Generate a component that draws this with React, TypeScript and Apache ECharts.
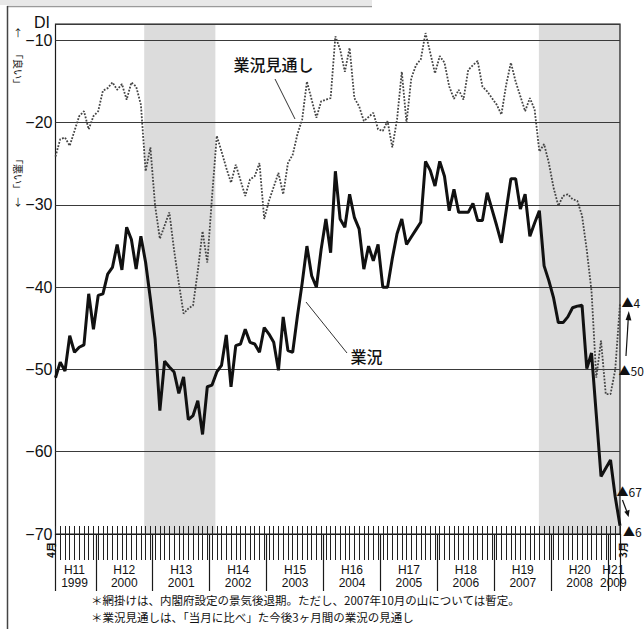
import React, { useEffect, useRef } from "react";
import * as echarts from "echarts";

// 業況 DI (solid), monthly Apr 1999 – Mar 2009
const businessDI = [
  -51, -49.1, -50.2, -45.9, -47.9, -47.3, -47.0, -40.8, -45.1, -41.0,
  -40.8, -38.4, -37.6, -34.8, -37.9, -32.7, -34.2, -37.8, -33.8, -37.0,
  -41.4, -46.3, -55.0, -49.0, -49.7, -50.3, -52.9, -50.9, -56.1, -55.6,
  -53.8, -57.9, -52.1, -51.9, -50.3, -49.5, -45.8, -52.1, -47.1, -46.9,
  -45.1, -46.7, -46.9, -47.9, -44.9, -45.7, -46.7, -50.1, -43.6, -47.7,
  -47.9, -43.5, -39.5, -35.0, -38.6, -40.0, -35.4, -31.7, -35.8, -25.9,
  -31.7, -32.7, -28.7, -31.5, -32.9, -37.8, -35.0, -36.8, -34.8, -40.0,
  -40.0, -36.5, -33.5, -31.7, -34.8, -33.9, -33.0, -32.1, -24.7, -25.8,
  -27.7, -24.7, -26.5, -30.7, -28.1, -30.9, -30.9, -30.9, -29.8, -31.9,
  -31.9, -28.5, -30.5, -32.5, -34.6, -30.7, -26.8, -26.8, -30.5, -28.7,
  -33.8, -32.2, -30.7, -37.4, -39.2, -41.3, -44.3, -44.3, -43.6, -42.5,
  -42.3, -42.2, -49.9, -48.0, -55.5, -63.0, -62.0, -61.0, -65.5, -69.0,
];

// 業況見通し DI (dotted)
const outlookDI = [
  -24.1, -22.0, -21.8, -22.8, -21.0, -19.2, -18.6, -20.8, -19.2, -18.6,
  -16.1, -15.8, -15.1, -16.0, -15.3, -17.2, -15.1, -15.6, -17.8, -25.9,
  -23.0, -30.1, -34.1, -32.5, -30.9, -35.5, -39.5, -43.2, -42.6, -42.2,
  -38.0, -33.2, -37.0, -29.0, -21.6, -23.5, -25.5, -27.3, -25.1, -27.0,
  -28.9, -26.9, -26.5, -24.9, -31.7, -29.5, -27.8, -26.1, -28.7, -24.9,
  -23.9, -21.4, -19.6, -15.0, -17.2, -19.4, -17.4, -17.2, -17.0, -9.5,
  -11.1, -13.8, -10.9, -17.0, -18.0, -19.8, -19.3, -18.8, -20.8, -21.0,
  -19.8, -23.0, -19.6, -13.8, -20.0, -14.6, -13.0, -12.3, -9.1, -11.5,
  -14.0, -11.9, -12.7, -15.6, -17.1, -16.0, -17.2, -13.6, -13.0, -12.5,
  -15.6, -16.2, -17.0, -17.8, -19.0, -15.4, -12.7, -15.0, -16.8, -18.6,
  -17.0, -18.4, -23.5, -22.6, -24.9, -27.9, -30.1, -28.9, -28.7, -29.3,
  -29.5, -31.3, -35.5, -40.5, -51.0, -46.5, -53.0, -53.0, -50.0, -42.0,
];

// fiscal-year labels and their positions (month index, Apr 1999 = 0)
const yearLabels = [
  "H11\n1999", "H12\n2000", "H13\n2001", "H14\n2002", "H15\n2003", "H16\n2004",
  "H17\n2005", "H18\n2006", "H19\n2007", "H20\n2008", "H21\n2009",
];
const yearLabelPos = [4, 14.5, 26.5, 38.5, 50.5, 62.5, 74.5, 86.5, 98.5, 110.5, 117.6];
const yearBoundaries = [8.5, 20.5, 32.5, 44.5, 56.5, 68.5, 80.5, 92.5, 104.5, 116.5];
const axisEnds = [0, 119];

// recession periods (shaded), in month index
const recessionSpans = [
  [18.7, 33.7],
  [101.9, 119],
];

const footnotes = [
  "＊網掛けは、内閣府設定の景気後退期。ただし、2007年10月の山については暫定。",
  "＊業況見通しは、「当月に比べ」た今後3ヶ月間の業況の見通し",
];

const rightMarks = ["▲4", "▲50", "▲67", "▲6"];

const cjk = "'Noto Sans CJK JP', sans-serif";
const latin = "'Liberation Sans', Arial, sans-serif";

function txt(x: number, y: number, text: string, extra: any = {}, style: any = {}) {
  return {
    type: "text",
    x,
    y,
    z: 100,
    silent: true,
    ...extra,
    style: {
      text,
      fill: "#111",
      fontSize: 12,
      fontFamily: cjk,
      align: "center",
      verticalAlign: "middle",
      ...style,
    },
  };
}

function seg(x1: number, y1: number, x2: number, y2: number, stroke = "#333", lineWidth = 1) {
  return {
    type: "line",
    z: 100,
    silent: true,
    shape: { x1, y1, x2, y2 },
    style: { stroke, lineWidth },
  };
}

function arrowHead(points: number[][]) {
  return {
    type: "polygon",
    z: 100,
    silent: true,
    shape: { points },
    style: { fill: "#111" },
  };
}

export default function App() {
  const ref = useRef<HTMLDivElement>(null);

  useEffect(() => {
    if (!ref.current) return;
    const chart = echarts.init(ref.current, undefined, { renderer: "svg" });

    const graphic: any[] = [
      { type: "rect", silent: true, z: -10, shape: { x: 0, y: 0, width: 372, height: 5 }, style: { fill: "#e8e8e8" } },
      seg(7, 6.5, 372, 6.5, "#9a9a9a", 1.5),
      seg(7.5, 6, 7.5, 629, "#444", 1.5),
      txt(50, 22.5, "DI", {}, { fontSize: 16, fontFamily: latin, align: "right" }),
      txt(18, 32, "↑", {}, { fontSize: 10 }),
      txt(18, 69, "「良い」", { rotation: -Math.PI / 2 }, { fontSize: 10 }),
      txt(18, 174, "「悪い」", { rotation: -Math.PI / 2 }, { fontSize: 10 }),
      txt(18, 201, "↓", {}, { fontSize: 10 }),
      txt(273.5, 63.5, "業況見通し", {}, { fontSize: 16, fontWeight: 500 }),
      seg(275, 79, 295, 119, "#333", 1),
      txt(366.5, 356, "業況", {}, { fontSize: 16, fontWeight: 500 }),
      seg(306, 302, 347, 353, "#333", 1),
      txt(50, 550, "4月", { rotation: Math.PI / 2 }, { fontSize: 10, fontWeight: "bold" }),
      txt(622, 550, "3月", { rotation: Math.PI / 2 }, { fontSize: 10, fontWeight: "bold" }),
      txt(621.5, 302, rightMarks[0], {}, { fontSize: 12, align: "left" }),
      txt(618.5, 370, rightMarks[1], {}, { fontSize: 12, align: "left" }),
      txt(616.5, 491, rightMarks[2], {}, { fontSize: 12, align: "left" }),
      txt(623, 531, rightMarks[3], {}, { fontSize: 12, align: "left" }),
      seg(626, 356, 628.3, 318, "#111", 1.2),
      arrowHead([[628.8, 311], [625.6, 320], [631.4, 320.4]]),
      seg(622.5, 500, 626.6, 511, "#111", 1.2),
      arrowHead([[628.6, 517], [624.3, 511.8], [629.6, 509.8]]),
      txt(91, 600, footnotes[0], {}, { fontSize: 11.5, align: "left" }),
      txt(91, 616.5, footnotes[1], {}, { fontSize: 11.5, align: "left" }),
    ];

    const option: any = {
      animation: false,
      backgroundColor: "#ffffff",
      grid: {
        left: 55.5,
        right: 24,
        top: 24,
        bottom: 95,
        show: true,
        borderColor: "#1a1a1a",
        borderWidth: 1.2,
        backgroundColor: "transparent",
      },
      xAxis: [
        {
          type: "value",
          min: 0,
          max: 119,
          interval: 1,
          position: "bottom",
          axisLine: { show: true, onZero: false, lineStyle: { color: "#1a1a1a", width: 1.2 } },
          axisTick: { show: true, inside: true, length: 8, lineStyle: { color: "#222", width: 1 } },
          axisLabel: { show: false },
          splitLine: { show: false },
        },
        {
          type: "value",
          min: 0,
          max: 119,
          interval: 1,
          position: "bottom",
          axisLine: { show: false, onZero: false },
          axisTick: { show: true, inside: false, length: 26, lineStyle: { color: "#222", width: 1 } },
          axisLabel: { show: false },
          splitLine: { show: false },
        },
        {
          type: "value",
          min: 0,
          max: 119,
          position: "bottom",
          axisLine: { show: false, onZero: false },
          axisTick: {
            show: true,
            inside: false,
            length: 57,
            customValues: [...axisEnds, ...yearBoundaries],
            lineStyle: { color: "#1a1a1a", width: 1.2 },
          },
          axisLabel: {
            show: true,
            customValues: yearLabelPos,
            formatter: (v: number) => {
              const k = yearLabelPos.indexOf(v);
              return k >= 0 ? yearLabels[k] : "";
            },
            margin: 30,
            fontSize: 12,
            lineHeight: 12.5,
            fontFamily: latin,
            color: "#111",
          },
          splitLine: { show: false },
        },
      ],
      yAxis: {
        type: "value",
        min: -70,
        max: -8,
        interval: 10,
        axisLine: { show: false },
        axisTick: { show: false },
        axisLabel: {
          formatter: (v: number) => (v % 10 === 0 ? "−" + Math.abs(v) : ""),
          margin: 3,
          fontSize: 16,
          fontFamily: latin,
          color: "#111",
        },
        splitLine: { show: true, lineStyle: { color: "#3a3a3a", width: 1.2 } },
      },
      series: [
        {
          type: "line",
          xAxisIndex: 0,
          data: [],
          z: -1,
          silent: true,
          markArea: {
            silent: true,
            z: -1,
            itemStyle: { color: "#dcdcdc" },
            data: recessionSpans.map(([a, b]) => [{ xAxis: a }, { xAxis: b }]),
          },
        },
        {
          type: "line",
          name: "業況見通し",
          xAxisIndex: 0,
          data: outlookDI.map((v, i) => [i, v]),
          symbol: "none",
          silent: true,
          z: 3,
          lineStyle: { color: "#444", width: 1.8, type: [1.8, 1.5] },
        },
        {
          type: "line",
          name: "業況",
          xAxisIndex: 0,
          data: businessDI.map((v, i) => [i, v]),
          symbol: "none",
          silent: true,
          z: 4,
          lineStyle: { color: "#111", width: 3 },
        },
      ],
      graphic,
    };

    chart.setOption(option);
    return () => chart.dispose();
  }, []);

  return (
    <div
      ref={ref}
      style={{ position: "fixed", left: 0, top: 0, width: 644, height: 629, background: "#fff" }}
    />
  );
}
